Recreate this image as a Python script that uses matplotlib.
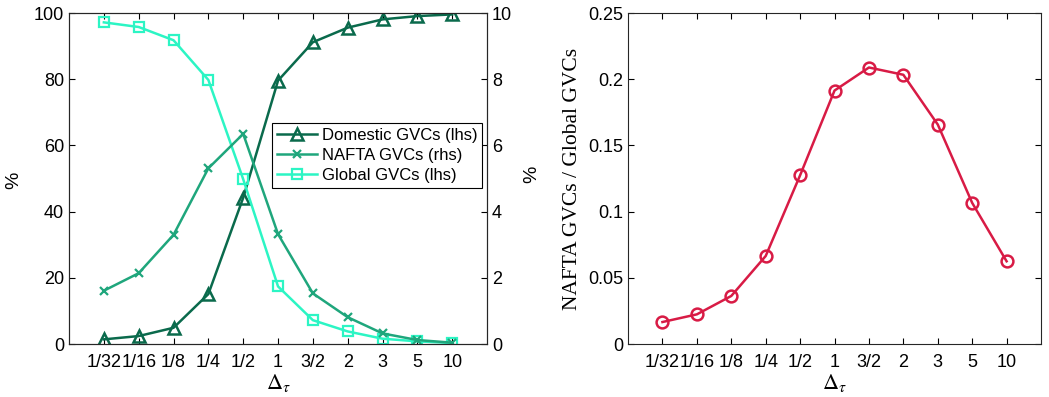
import numpy as np
import matplotlib
matplotlib.use('Agg')
import matplotlib.pyplot as plt

plt.rcParams['font.family'] = ['Liberation Sans', 'DejaVu Sans']
plt.rcParams['mathtext.fontset'] = 'stix'
plt.rcParams['font.size'] = 13

# data
labels = ['1/32', '1/16', '1/8', '1/4', '1/2', '1', '3/2', '2', '3', '5', '10']
domestic = [1.4, 2.4, 4.9, 15.1, 44.2, 79.6, 91.2, 95.6, 98.1, 99.1, 99.6]
nafta = [1.61, 2.14, 3.30, 5.31, 6.35, 3.32, 1.53, 0.81, 0.32, 0.12, 0.04]
glob = [97.2, 95.8, 91.8, 79.8, 49.8, 17.4, 7.2, 3.8, 1.6, 0.8, 0.3]
ratio = [0.0166, 0.0224, 0.0363, 0.0665, 0.1275, 0.1915, 0.2089, 0.2034, 0.1658, 0.1066, 0.0625]

c_dom = '#0a6a4c'
c_naf = '#1fa67c'
c_glo = '#2cf5c4'
c_red = '#d81b45'

x = np.arange(1, len(labels) + 1)

fig = plt.figure(figsize=(10.49, 3.97), dpi=100)
ax1 = fig.add_axes([0.0658, 0.1335, 0.3985, 0.8335])
ax2 = ax1.twinx()

l1, = ax1.plot(x, domestic, color=c_dom, lw=1.8, marker='^', ms=9, mfc='none', mew=1.8, label='Domestic GVCs (lhs)')
l3, = ax1.plot(x, glob, color=c_glo, lw=1.8, marker='s', ms=6.5, mfc='none', mew=1.6, label='Global GVCs (lhs)')
l2, = ax2.plot(x, nafta, color=c_naf, lw=1.8, marker='x', ms=6, mew=1.6, label='NAFTA GVCs (rhs)')

ax1.set_xlim(0, 12)
ax1.set_ylim(0, 100)
ax2.set_ylim(0, 10)
ax1.set_xticks(x)
ax1.set_xticklabels(labels)
ax1.set_yticks(np.arange(0, 101, 20))
ax2.set_yticks(np.arange(0, 11, 2))
ax1.tick_params(direction='in', top=True, length=4, width=0.8)
ax1.tick_params(axis='x', pad=7)
ax2.tick_params(direction='in', length=4, width=0.8)
ax1.set_xlabel(r'$\Delta_\tau$', fontsize=16, labelpad=1)
fig.text(0.0135, 0.547, '%', rotation=90, fontsize=14, ha='center', va='center')

leg = ax2.legend(handles=[l1, l2, l3], loc='upper left', bbox_to_anchor=(0.485, 0.668),
                 fancybox=False, edgecolor='black', framealpha=1, fontsize=12,
                 handlelength=2.4, borderpad=0.3, labelspacing=0.3, handletextpad=0.3,
                 borderaxespad=0)
leg.get_frame().set_linewidth(0.8)

# right panel
ax3 = fig.add_axes([0.5987, 0.1335, 0.3937, 0.8335])
ax3.plot(x, ratio, color=c_red, lw=1.8, marker='o', ms=8.5, mfc='none', mew=1.8)
ax3.set_xlim(0, 12)
ax3.set_ylim(0, 0.25)
ax3.set_xticks(x)
ax3.set_xticklabels(labels)
ax3.set_yticks([0, 0.05, 0.1, 0.15, 0.2, 0.25])
ax3.set_yticklabels(['0', '0.05', '0.1', '0.15', '0.2', '0.25'])
ax3.tick_params(direction='in', top=True, right=True, length=4, width=0.8)
ax3.tick_params(axis='x', pad=7)
ax3.set_xlabel(r'$\Delta_\tau$', fontsize=16, labelpad=1)
ax3.set_ylabel('NAFTA GVCs / Global GVCs', family=['Liberation Serif'], fontsize=15.5, labelpad=4)
fig.text(0.507, 0.56, '%', rotation=90, fontsize=14, ha='center', va='center')

for ax in (ax1, ax2, ax3):
    for s in ax.spines.values():
        s.set_linewidth(0.8)
        s.set_color('#262626')

fig.savefig('out.png', dpi=100)
